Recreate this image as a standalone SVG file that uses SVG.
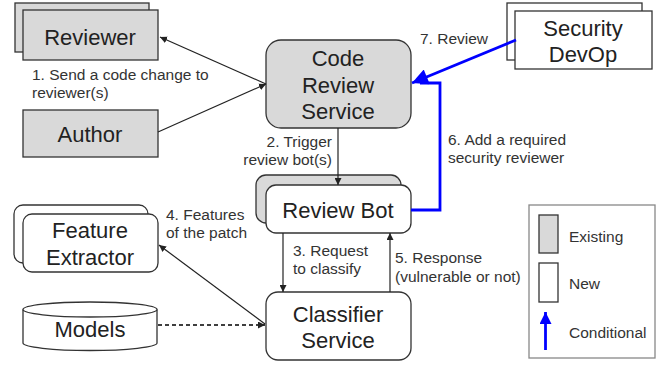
<svg xmlns="http://www.w3.org/2000/svg" width="663" height="365" viewBox="0 0 663 365">
<style>
.n{font-family:"Liberation Sans",Arial,sans-serif;font-size:22px;fill:#222;text-anchor:middle}
.l{font-family:"Liberation Sans",Arial,sans-serif;font-size:15.5px;fill:#333}
.g{fill:#d9d9d9;stroke:#333;stroke-width:1.3}
.w{fill:#fff;stroke:#333;stroke-width:1.3}
.c{fill:none;stroke:#222;stroke-width:1.2}
.d{fill:none;stroke:#000;stroke-width:1.3;stroke-dasharray:4,3}
.b{fill:none;stroke:#0000ff;stroke-width:2.8}
</style>
<defs>
<marker id="a" viewBox="0 0 10 10" refX="10" refY="5" markerWidth="7" markerHeight="7" markerUnits="userSpaceOnUse" orient="auto-start-reverse"><path d="M0,0L10,5L0,10z" fill="#222"/></marker>
<marker id="bb" viewBox="0 0 10 10" refX="10" refY="5" markerWidth="18" markerHeight="16" markerUnits="userSpaceOnUse" orient="auto"><path d="M0,0L10,5L0,10z" fill="#0000ff"/></marker>
<marker id="bs" viewBox="0 0 10 10" refX="10" refY="5" markerWidth="14" markerHeight="12" markerUnits="userSpaceOnUse" orient="auto"><path d="M0,0L10,5L0,10z" fill="#0000ff"/></marker>
</defs>
<rect width="663" height="365" fill="#fff"/>
<g id="reviewer">
<rect class="g" x="15" y="3" width="134" height="49"/>
<rect class="g" x="23" y="10" width="135" height="50"/>
<text class="n" x="90" y="45">Reviewer</text>
</g>
<g id="author">
<rect class="g" x="23" y="110" width="135" height="47"/>
<text class="n" x="90" y="142">Author</text>
</g>
<g id="code-review-service">
<rect class="g" x="266" y="40" width="145" height="88" rx="15"/>
<text class="n" x="338" y="66">Code</text>
<text class="n" x="338" y="93">Review</text>
<text class="n" x="338" y="119">Service</text>
</g>
<g id="security-devop">
<rect class="w" x="507" y="3" width="135" height="57"/>
<rect class="w" x="515" y="11" width="137" height="58"/>
<text class="n" x="583" y="36">Security</text>
<text class="n" x="583" y="62">DevOp</text>
</g>
<g id="review-bot">
<rect class="g" x="256" y="175" width="145" height="48" rx="10"/>
<rect class="w" x="266" y="185" width="145" height="48" rx="10"/>
<text class="n" x="338" y="218">Review Bot</text>
</g>
<g id="classifier-service">
<rect class="w" x="266" y="292" width="145" height="68" rx="12"/>
<text class="n" x="338" y="322">Classifier</text>
<text class="n" x="338" y="348">Service</text>
</g>
<g id="feature-extractor">
<rect class="w" x="14" y="205" width="134" height="58" rx="9"/>
<rect class="w" x="23" y="214" width="135" height="58" rx="9"/>
<text class="n" x="90" y="238">Feature</text>
<text class="n" x="90" y="265">Extractor</text>
</g>
<g id="models">
<path class="w" d="M23,309.5 V343 A67,7.5 0 0 0 157,343 V309.5"/>
<ellipse class="w" cx="90" cy="309.5" rx="67" ry="7.5"/>
<text class="n" x="90" y="337">Models</text>
</g>
<g id="legend">
<rect x="529" y="205" width="126" height="153" fill="#fff" stroke="#888" stroke-width="1.3"/>
<rect class="g" x="539" y="215" width="19" height="38"/>
<rect class="w" x="539" y="263" width="19" height="39"/>
<line class="b" x1="545.5" y1="350" x2="545.5" y2="312" stroke-width="2" marker-end="url(#bs)"/>
<text class="l" x="569" y="242">Existing</text>
<text class="l" x="569" y="289">New</text>
<text class="l" x="569" y="338">Conditional</text>
</g>
<g id="connectors">
<line class="c" x1="266" y1="84" x2="160" y2="37" marker-end="url(#a)"/>
<line class="c" x1="158" y1="132" x2="266" y2="84" marker-end="url(#a)"/>
<line class="c" x1="338" y1="128" x2="338" y2="185" marker-end="url(#a)"/>
<line class="c" x1="283" y1="233" x2="283" y2="292" marker-end="url(#a)"/>
<line class="c" x1="390" y1="292" x2="390" y2="233" marker-end="url(#a)"/>
<line class="c" x1="265" y1="324" x2="159" y2="245" marker-end="url(#a)"/>
<line class="d" x1="158" y1="325" x2="265" y2="325" marker-end="url(#a)"/>
<line class="b" x1="516" y1="40" x2="412" y2="83" marker-end="url(#bb)"/>
<path class="b" d="M411,210 H440 V83 H420"/>
<text class="l" x="32" y="80">1. Send a code change to</text>
<text class="l" x="32" y="98">reviewer(s)</text>
<text class="l" x="420" y="44">7. Review</text>
<text class="l" x="332" y="147" text-anchor="end">2. Trigger</text>
<text class="l" x="332" y="165" text-anchor="end">review bot(s)</text>
<text class="l" x="448" y="145">6. Add a required</text>
<text class="l" x="448" y="163">security reviewer</text>
<text class="l" x="166" y="220">4. Features</text>
<text class="l" x="166" y="238">of the patch</text>
<text class="l" x="293" y="256">3. Request</text>
<text class="l" x="293" y="274">to classify</text>
<text class="l" x="395" y="263">5. Response</text>
<text class="l" x="395" y="282">(vulnerable or not)</text>
</g>
</svg>
